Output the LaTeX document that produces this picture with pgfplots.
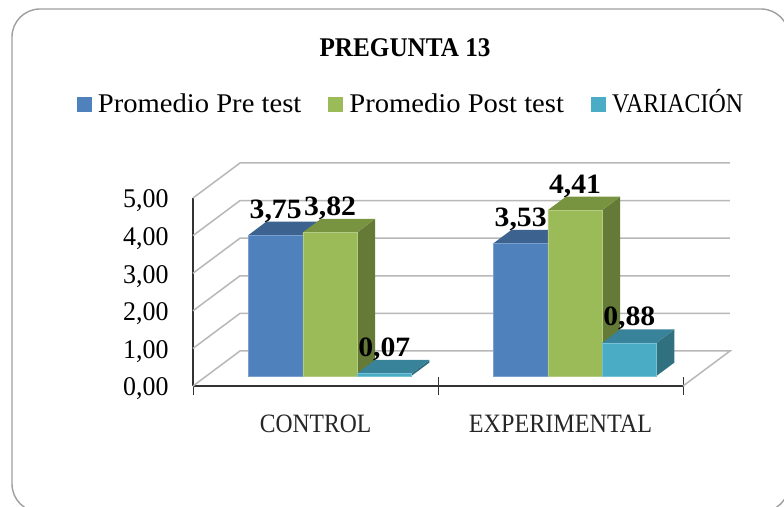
\documentclass[border=0pt]{standalone}
\usepackage{fontspec}
\setmainfont{Liberation Serif}[FakeStretch=1.06]
\newfontfamily\tickfont{Liberation Serif}[FakeStretch=0.96]
\usepackage{pgfplots}
\pgfplotsset{compat=1.18}
\definecolor{cA}{HTML}{4F81BD}\definecolor{cAt}{HTML}{3C6290}
\definecolor{cB}{HTML}{9BBB59}\definecolor{cBt}{HTML}{789440}\definecolor{cBs}{HTML}{667A38}
\definecolor{cC}{HTML}{4BACC6}\definecolor{cCt}{HTML}{38829A}\definecolor{cCs}{HTML}{30707F}
\definecolor{wall}{HTML}{B8B8B8}
\pgfplotsset{
  shifted/.style={xshift=14.5pt,yshift=10pt},
  sq legend/.style={legend image code/.code={\path[##1,draw=none] (0pt,-16.5pt) rectangle (15pt,-1.5pt);}},
  wallline/.style={draw=wall,line width=1.5pt,forget plot},
}
% bar left edge (axis units), value, colour: top and side faces in depth
\newcommand\topface[3]{%
  \pgfmathsetmacro\xb{#1+0.2216}\pgfmathsetmacro\xc{#1+0.2216+0.0735}\pgfmathsetmacro\xd{#1+0.0735}\pgfmathsetmacro\yc{#2+0.358}%
  \addplot[shifted,fill=#3,draw=none,forget plot] coordinates {(#1,#2)(\xb,#2)(\xc,\yc)(\xd,\yc)} --cycle;}
\newcommand\sideface[3]{%
  \pgfmathsetmacro\xb{#1+0.2216}\pgfmathsetmacro\xc{#1+0.2216+0.0735}\pgfmathsetmacro\yc{#2+0.358}%
  \addplot[shifted,fill=#3,draw=none,forget plot] coordinates {(\xb,0)(\xb,#2)(\xc,\yc)(\xc,0.358)} --cycle;}
\begin{document}
\begin{tikzpicture}[x=1pt,y=1pt]
\path[use as bounding box,fill=white] (0,0) rectangle (784,506);
\begin{scope}
\clip (0,0) rectangle (784,506);
\draw[color=gray!75,line width=1.4pt,rounded corners=28pt] (12,-6) rectangle (789,497);
\end{scope}
\begin{axis}[
  at={(193pt,120pt)},anchor=south west,
  scale only axis,width=490pt,height=188pt,
  xmin=-0.5,xmax=1.5,ymin=0,ymax=5,clip=false,
  axis x line=bottom,axis y line=left,
  axis line style={-,draw=black!80,line width=1.1pt},
  xtick={0,1},xticklabels={\scalebox{0.84}[1]{CONTROL},\scalebox{0.86}[1]{EXPERIMENTAL}},
  minor xtick={-0.5,0.5,1.5},
  ytick={0,1,2,3,4,5},
  major tick length=0pt,
  minor tick length=18pt,
  minor tick style={draw=black!80,line width=0.7pt},
  xticklabel style={yshift=-25pt,font=\fontsize{26.5}{28}\selectfont,text=black!85},
  yticklabel style={xshift=-21pt,yshift=-3pt,font=\tickfont\fontsize{27}{28}\selectfont,text=black},
  /pgf/number format/.cd,use comma,fixed,fixed zerofill,precision=2,assume math mode=true,
  /pgfplots/.cd,
  title={\scalebox{0.88}[1]{\bfseries PREGUNTA 13}},
  title style={at={(0.4327,1.72)},anchor=base,font=\fontsize{27}{28}\selectfont},
  legend columns=3,
  legend style={at={(-0.237,1.49)},anchor=west,draw=none,fill=none,
    font=\fontsize{27}{28}\selectfont,inner sep=0pt,outer sep=0pt,
    nodes={text height=19pt,text depth=6pt},
    /tikz/every even column/.append style={column sep=25pt},
    /tikz/every odd column/.append style={column sep=4pt}},
  every node near coord/.append style={font=\bfseries\fontsize{28}{28}\selectfont,anchor=base,yshift=17pt,text=black,text height=0pt,text depth=0pt},
]
% walls and floor
\addplot[wallline] coordinates {(-0.5,1)(-0.3082,1.931)(1.6918,1.931)};
\addplot[wallline] coordinates {(-0.5,2)(-0.3082,2.931)(1.6918,2.931)};
\addplot[wallline] coordinates {(-0.5,3)(-0.3082,3.931)(1.6918,3.931)};
\addplot[wallline] coordinates {(-0.5,4)(-0.3082,4.931)(1.6918,4.931)};
\addplot[wallline] coordinates {(-0.5,5)(-0.3082,5.931)(1.6918,5.931)};
\addplot[wallline] coordinates {(-0.5,0)(-0.3082,0.931)(1.6918,0.931)(1.5,0)};
% Promedio Pre test
\topface{-0.3326}{3.75}{cAt}
\topface{0.6674}{3.53}{cAt}
\addplot[ybar,shifted,nodes near coords,nodes near coords style={xshift=-54.3pt},bar width=54.3pt,bar shift=-54.3pt,fill=cA,draw=cA!75!white,line width=0.4pt,sq legend] coordinates {(0,3.75)(1,3.53)};
\addlegendentry{Promedio Pre test}
% Promedio Post test
\sideface{-0.111}{3.82}{cBs}
\sideface{0.889}{4.41}{cBs}
\topface{-0.111}{3.82}{cBt}
\topface{0.889}{4.41}{cBt}
\addplot[ybar,shifted,nodes near coords,bar width=54.3pt,bar shift=0pt,fill=cB,draw=cB!75!white,line width=0.4pt,sq legend] coordinates {(0,3.82)(1,4.41)};
\addlegendentry{Promedio Post test}
% VARIACION
\sideface{0.1106}{0.07}{cCs}
\sideface{1.1106}{0.88}{cCs}
\topface{0.1106}{0.07}{cCt}
\topface{1.1106}{0.88}{cCt}
\addplot[ybar,shifted,nodes near coords,nodes near coords style={xshift=54.3pt},bar width=54.3pt,bar shift=54.3pt,fill=cC,draw=cC!75!white,line width=0.4pt,sq legend] coordinates {(0,0.07)(1,0.88)};
\addlegendentry{\scalebox{0.835}[1]{VARIACIÓN}}
\end{axis}
\end{tikzpicture}
\end{document}
